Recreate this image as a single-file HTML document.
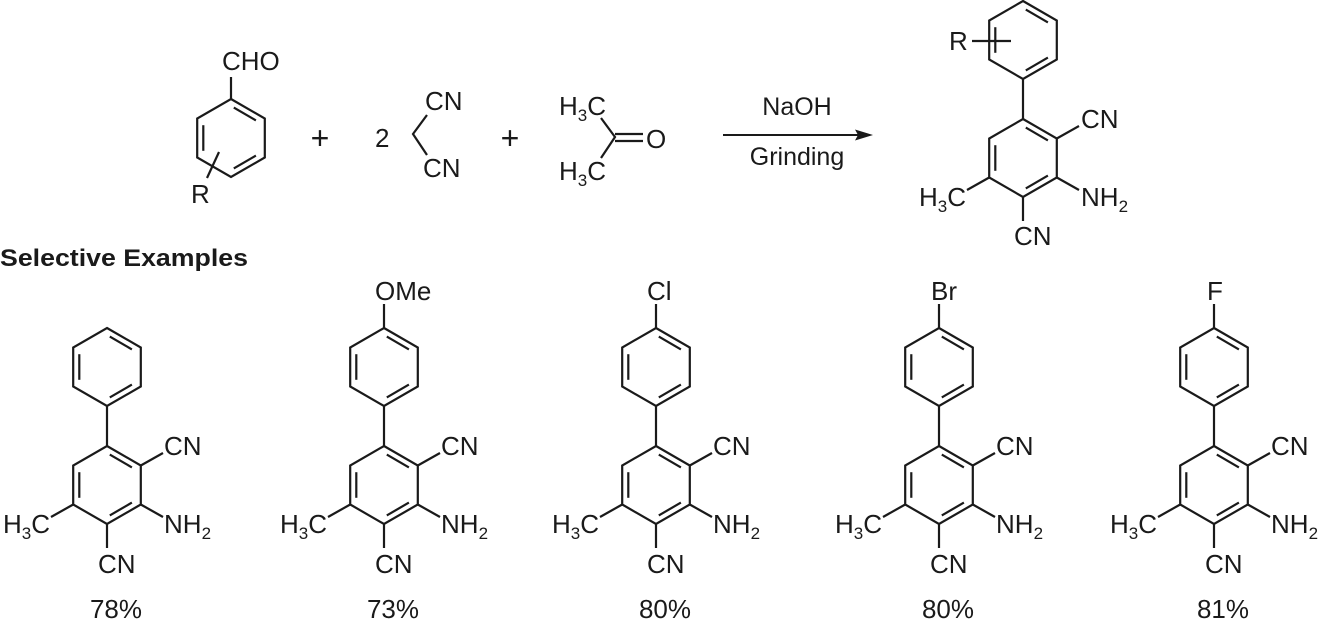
<!DOCTYPE html>
<html><head><meta charset="utf-8">
<style>
html,body{margin:0;padding:0;background:#fff;}
svg{display:block;}
text{font-family:"Liberation Sans",Arial,sans-serif;font-size:26px;fill:#1a1a1a;}
.s{font-size:17px;}
.p{font-size:32px;}
</style></head>
<body>
<svg width="1321" height="621" viewBox="0 0 1321 621" xmlns="http://www.w3.org/2000/svg">
<defs>
  <g id="hex" fill="none" stroke="#1a1a1a" stroke-width="2.2" stroke-linejoin="miter">
    <polygon points="0,-39 33.8,-19.5 33.8,19.5 0,39 -33.8,19.5 -33.8,-19.5"/>
    <line x1="2.8" y1="-30.4" x2="24.9" y2="-17.6"/>
    <line x1="-27.7" y1="12.8" x2="-27.7" y2="-12.8"/>
    <line x1="24.9" y1="17.6" x2="2.8" y2="30.4"/>
  </g>
  <g id="core">
    <use href="#hex"/>
    <use href="#hex" transform="translate(0,-118)"/>
    <g stroke="#1a1a1a" stroke-width="2.2" fill="none">
      <line x1="0" y1="-79" x2="0" y2="-39"/>
      <line x1="33.8" y1="-19.5" x2="56" y2="-32"/>
      <line x1="33.8" y1="19.5" x2="56" y2="32"/>
      <line x1="-33.8" y1="19.5" x2="-56" y2="32"/>
      <line x1="0" y1="39" x2="0" y2="63"/>
    </g>
  </g>
</defs>

<use href="#hex" transform="translate(231,138)"/>
<g stroke="#1a1a1a" stroke-width="2.2" fill="none">
  <line x1="231" y1="99" x2="231" y2="77"/>
  <line x1="219" y1="152" x2="207" y2="178"/>
</g>
<text x="222" y="70">CHO</text>
<text x="191" y="203">R</text>

<text class="p" x="320" y="149" text-anchor="middle">+</text>
<text x="375" y="147">2</text>
<g stroke="#1a1a1a" stroke-width="2.2" fill="none">
  <polyline points="427,115 413,134 427,155"/>
</g>
<text x="425" y="110">CN</text>
<text x="423" y="177">CN</text>

<text class="p" x="510" y="149" text-anchor="middle">+</text>

<g stroke="#1a1a1a" stroke-width="2.2" fill="none">
  <polyline points="601,118 615,137 601,158"/>
  <line x1="615" y1="134" x2="643" y2="134"/>
  <line x1="615" y1="141" x2="643" y2="141"/>
</g>
<text x="559" y="115">H<tspan class="s" dy="6">3</tspan><tspan dy="-6">C</tspan></text>
<text x="559" y="180">H<tspan class="s" dy="6">3</tspan><tspan dy="-6">C</tspan></text>
<text x="646" y="148">O</text>

<line x1="723" y1="135" x2="860" y2="135" stroke="#1a1a1a" stroke-width="2"/>
<polygon points="873,135 855,129.5 858,135 855,140.5" fill="#1a1a1a"/>
<text x="797" y="115" text-anchor="middle" style="font-size:25px">NaOH</text>
<text x="797" y="165" text-anchor="middle" style="font-size:25px">Grinding</text>

<use href="#core" transform="translate(1023,158)"/>
<line x1="972" y1="41" x2="1011" y2="41" stroke="#1a1a1a" stroke-width="2.2"/>
<text x="949" y="50">R</text>
<text x="1081" y="128">CN</text>
<text x="1081" y="206">NH<tspan class="s" dy="6">2</tspan></text>
<text x="966" y="206" text-anchor="end">H<tspan class="s" dy="6">3</tspan><tspan dy="-6">C</tspan></text>
<text x="1014" y="245">CN</text>

<text x="0" y="266" style="font-weight:bold;font-size:24px" textLength="248" lengthAdjust="spacingAndGlyphs">Selective Examples</text>

<g>
  <use href="#core" transform="translate(107,485)"/>
  <text x="164" y="455">CN</text>
  <text x="164" y="533">NH<tspan class="s" dy="6">2</tspan></text>
  <text x="50" y="533" text-anchor="end">H<tspan class="s" dy="6">3</tspan><tspan dy="-6">C</tspan></text>
  <text x="98" y="573">CN</text>
  <text x="116" y="618" text-anchor="middle">78%</text>
</g>
<g>
  <use href="#core" transform="translate(384,485)"/>
  <line x1="384" y1="328" x2="384" y2="304" stroke="#1a1a1a" stroke-width="2.2"/>
  <text x="375" y="300">OMe</text>
  <text x="441" y="455">CN</text>
  <text x="441" y="533">NH<tspan class="s" dy="6">2</tspan></text>
  <text x="327" y="533" text-anchor="end">H<tspan class="s" dy="6">3</tspan><tspan dy="-6">C</tspan></text>
  <text x="375" y="573">CN</text>
  <text x="393" y="618" text-anchor="middle">73%</text>
</g>
<g>
  <use href="#core" transform="translate(656,485)"/>
  <line x1="656" y1="328" x2="656" y2="304" stroke="#1a1a1a" stroke-width="2.2"/>
  <text x="647" y="300">Cl</text>
  <text x="713" y="455">CN</text>
  <text x="713" y="533">NH<tspan class="s" dy="6">2</tspan></text>
  <text x="599" y="533" text-anchor="end">H<tspan class="s" dy="6">3</tspan><tspan dy="-6">C</tspan></text>
  <text x="647" y="573">CN</text>
  <text x="665" y="618" text-anchor="middle">80%</text>
</g>
<g>
  <use href="#core" transform="translate(939,485)"/>
  <line x1="939" y1="328" x2="939" y2="304" stroke="#1a1a1a" stroke-width="2.2"/>
  <text x="931" y="300">Br</text>
  <text x="996" y="455">CN</text>
  <text x="996" y="533">NH<tspan class="s" dy="6">2</tspan></text>
  <text x="882" y="533" text-anchor="end">H<tspan class="s" dy="6">3</tspan><tspan dy="-6">C</tspan></text>
  <text x="930" y="573">CN</text>
  <text x="948" y="618" text-anchor="middle">80%</text>
</g>
<g>
  <use href="#core" transform="translate(1214,485)"/>
  <line x1="1214" y1="328" x2="1214" y2="304" stroke="#1a1a1a" stroke-width="2.2"/>
  <text x="1207" y="300">F</text>
  <text x="1271" y="455">CN</text>
  <text x="1271" y="533">NH<tspan class="s" dy="6">2</tspan></text>
  <text x="1157" y="533" text-anchor="end">H<tspan class="s" dy="6">3</tspan><tspan dy="-6">C</tspan></text>
  <text x="1205" y="573">CN</text>
  <text x="1223" y="618" text-anchor="middle">81%</text>
</g>
</svg>
</body></html>
